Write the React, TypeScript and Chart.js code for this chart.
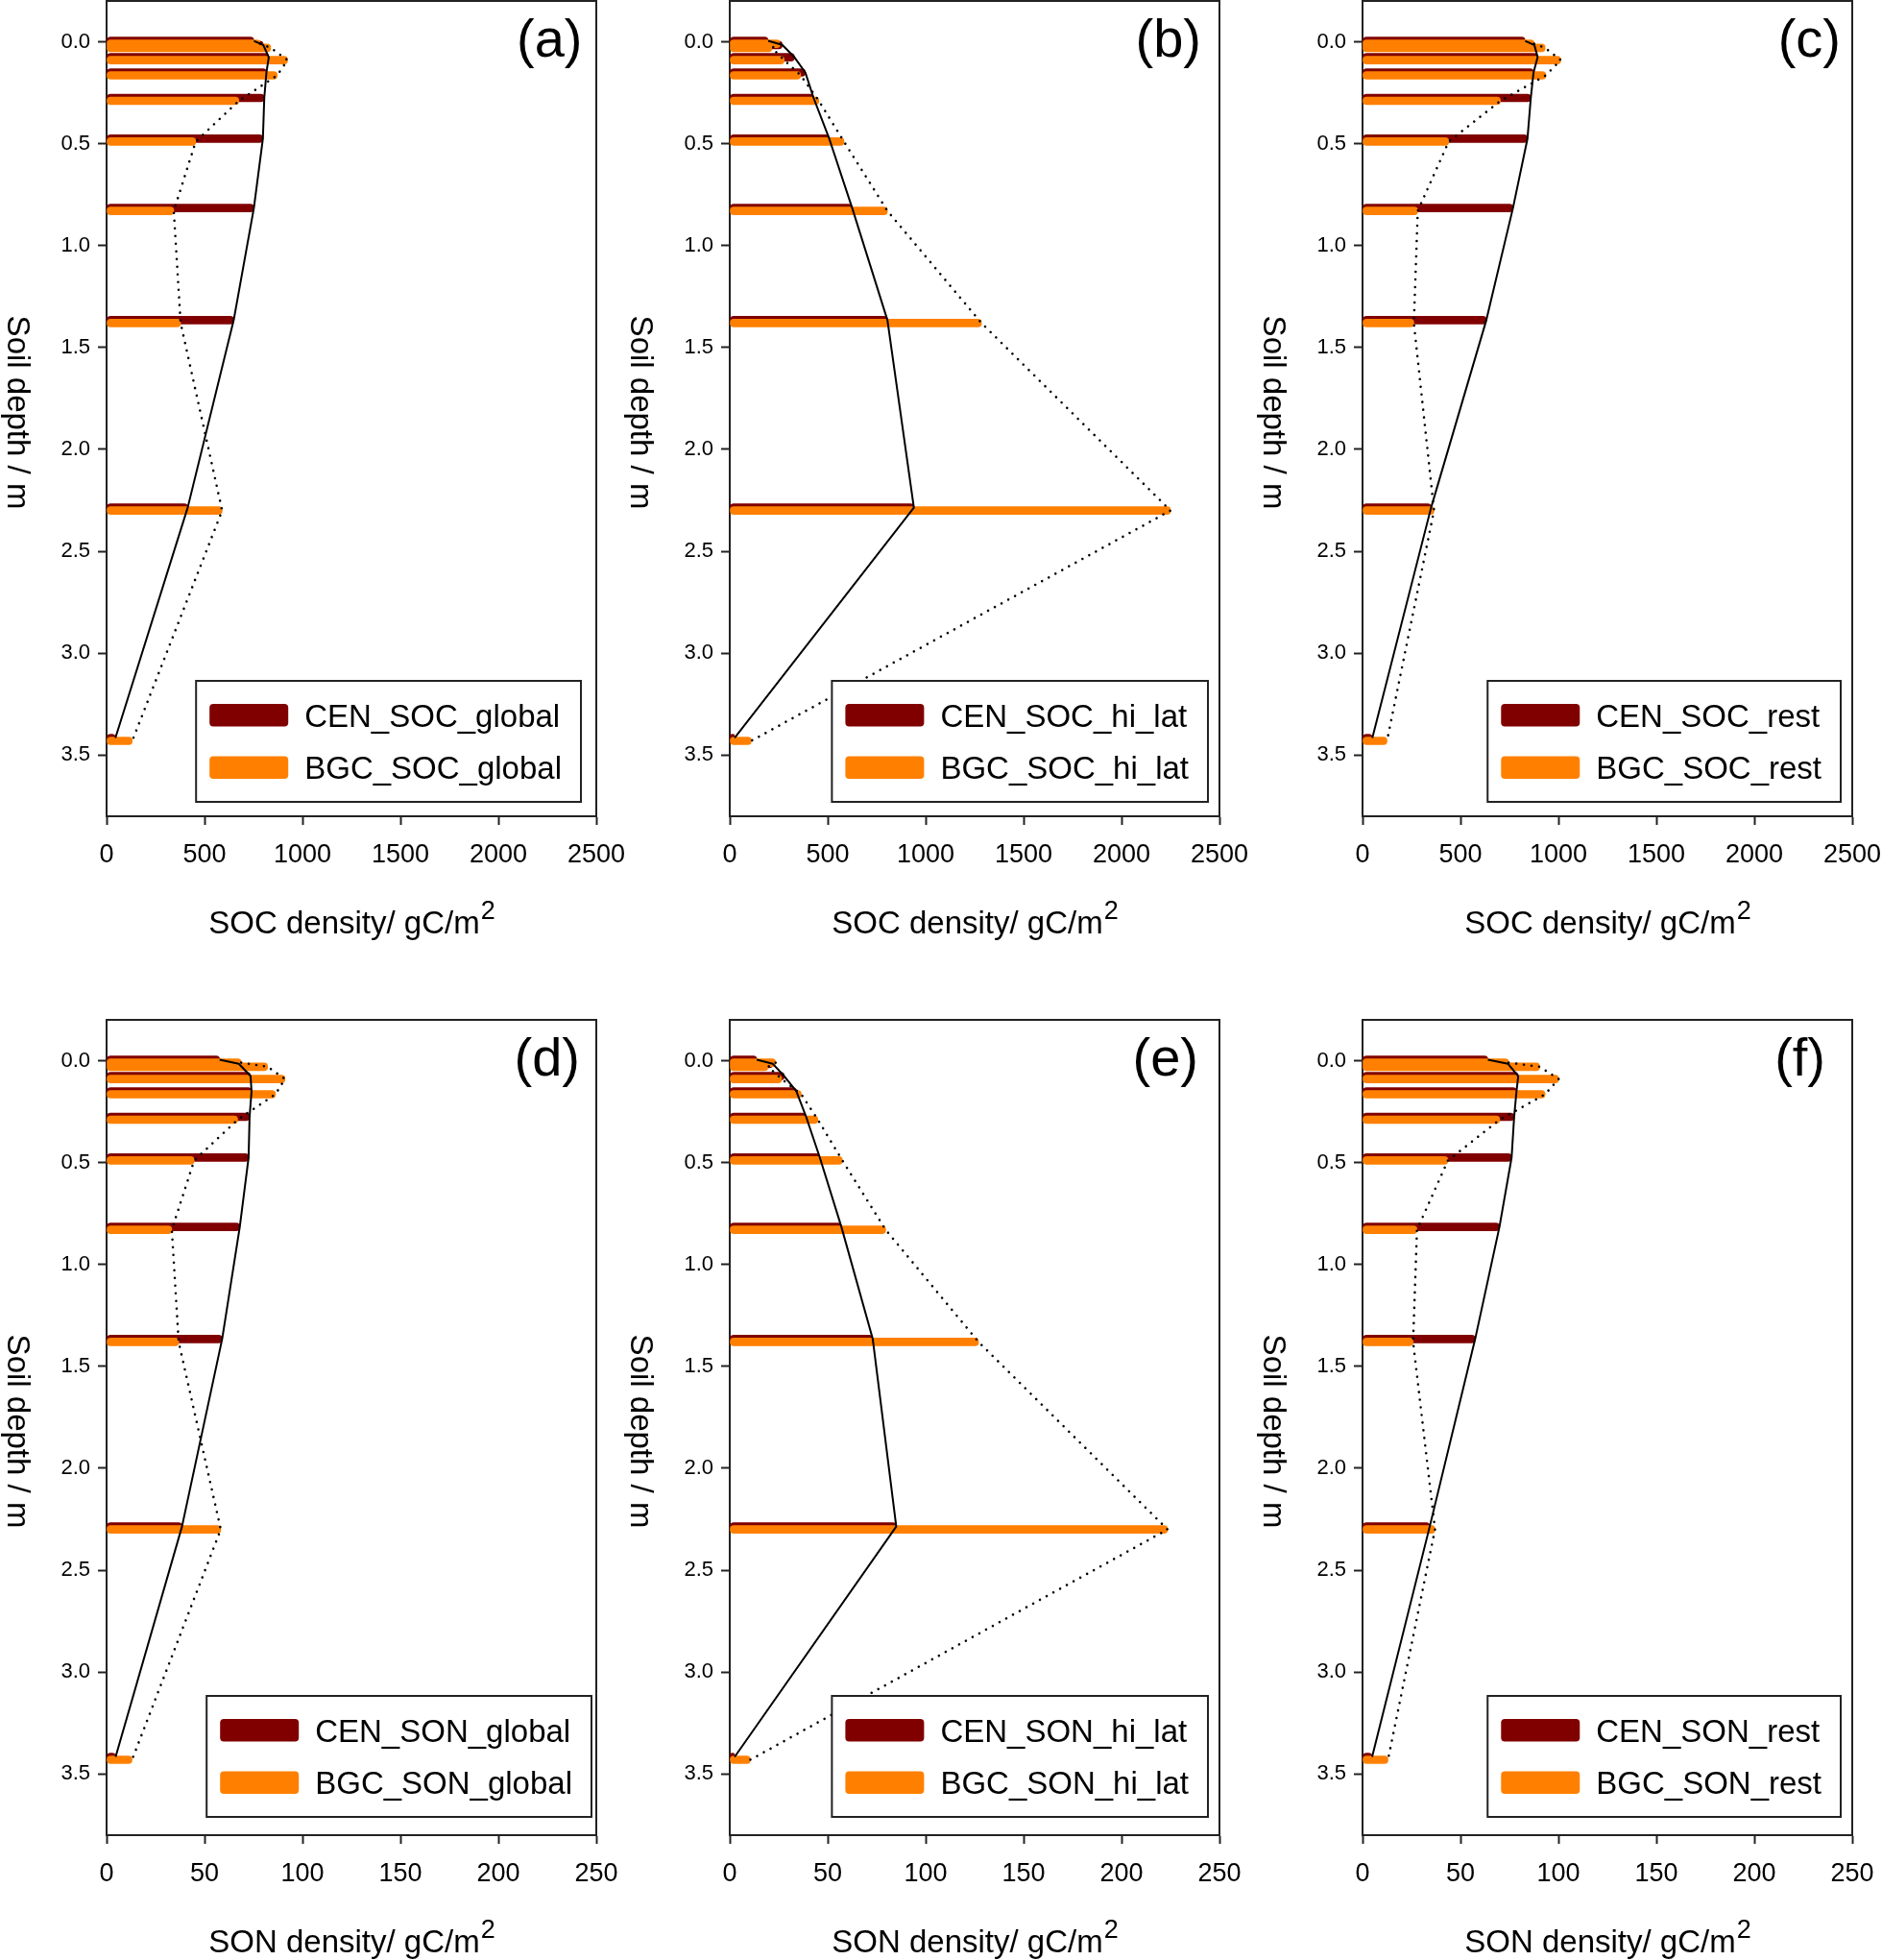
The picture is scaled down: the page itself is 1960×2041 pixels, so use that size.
import React, { useEffect, useRef } from "react";
import { Chart, registerables } from "chart.js";

Chart.register(...registerables);

// ---------------- data ----------------
const depths = [0.01, 0.03, 0.09, 0.165, 0.29, 0.49, 0.83, 1.38, 2.3, 3.43];
const depthTicks = [0, 0.5, 1, 1.5, 2, 2.5, 3, 3.5];
const socTicks = [0, 500, 1000, 1500, 2000, 2500];
const sonTicks = [0, 50, 100, 150, 200, 250];

const socGlobalCEN = [752, 800, 828, 816, 805, 798, 752, 649, 414, 45];
const socGlobalBGC = [784, 838, 924, 871, 675, 455, 343, 378, 590, 131];
const socHiLatCEN = [196, 268, 330, 386, 428, 508, 625, 805, 940, 25];
const socHiLatBGC = [257, 215, 278, 362, 455, 583, 805, 1285, 2250, 110];
const socRestCEN = [830, 877, 894, 873, 859, 842, 768, 632, 350, 50];
const socRestBGC = [876, 932, 1012, 936, 704, 440, 282, 262, 365, 125];

const sonGlobalCEN = [57.7, 67.5, 73.5, 74, 73, 72.5, 68, 59, 38.5, 4.6];
const sonGlobalBGC = [68.7, 82.2, 91.1, 86.2, 66.9, 44.7, 33.3, 36.8, 58.3, 13];
const sonHiLatCEN = [13.8, 22, 27.8, 34, 39, 46, 57, 73, 85, 2.5];
const sonHiLatBGC = [23.4, 19.5, 26.5, 36.5, 45, 57.5, 79.6, 127, 223.5, 10.5];
const sonRestCEN = [64, 74.3, 79.5, 78.6, 77.4, 76.1, 69.9, 57.5, 34.3, 4.9];
const sonRestBGC = [74.6, 90.4, 100.1, 93.2, 70, 43.6, 27.8, 25.8, 37, 13];

const panelLabels = ["(a)", "(b)", "(c)", "(d)", "(e)", "(f)"];
const cenNames = ["CEN_SOC_global", "CEN_SOC_hi_lat", "CEN_SOC_rest", "CEN_SON_global", "CEN_SON_hi_lat", "CEN_SON_rest"];
const bgcNames = ["BGC_SOC_global", "BGC_SOC_hi_lat", "BGC_SOC_rest", "BGC_SON_global", "BGC_SON_hi_lat", "BGC_SON_rest"];
const xTitles = ["SOC density/ gC/m", "SON density/ gC/m"];
const yTitle = "Soil depth / m";

// ---------------- layout / style ----------------
const FONT = '"Liberation Sans", Arial, Helvetica, sans-serif';
const DARK = "#800000";
const ORANGE = "#FF8000";
const FRAME = "#222222";

const COL_PLOT_LEFT = [111, 760, 1419];
const ROW_PLOT_TOP = [1, 1062];
const PLOT_W = 510;
const PLOT_H = 849;
const Y_AXIS_W = 111;
const PAD_TOP = 21;
const CANVAS_W = 650;
const CANVAS_H = 1000;
const X_AXIS_H = CANVAS_H - PAD_TOP - PLOT_H;
const PX_PER_M = PLOT_H / 4;
const DEPTH_MIN = -0.2;
const DEPTH_MAX = 3.8;

// Bar geometry. Chart.js groups the bars of this chart into SLOT_COUNT slots
// (one per dataset, in dataset order), each BAR_T thick, centred on the index pixel.
// Hidden depth scales are shifted so the CEN bar ends up CEN_ABOVE px above the
// BGC bar, which itself is centred on the depth.
const BAR_T = 8;
const SLOT_COUNT = 4;
const CEN_ABOVE = 3;
const slotOffset = (slot: number) => BAR_T * (slot + 0.5) - (BAR_T * SLOT_COUNT) / 2;
const LIFT_CEN_BAR = CEN_ABOVE + slotOffset(0); // px the scale is raised
const LIFT_BGC_BAR = slotOffset(1);
const LIFT_CEN_LINE = CEN_ABOVE;

const LEGEND_RIGHT_GAP = [16, 12, 12, 5, 12, 12];
const LEGEND_BOTTOM_GAP = [15, 19];
const LABEL_RIGHT_GAP = [14.5, 19, 12, 17, 22, 28];

type PanelDef = {
  idx: number;
  row: number;
  col: number;
  cen: number[];
  bgc: number[];
  xTicks: number[];
  xMax: number;
};

const panels: PanelDef[] = [
  { idx: 0, row: 0, col: 0, cen: socGlobalCEN, bgc: socGlobalBGC, xTicks: socTicks, xMax: 2500 },
  { idx: 1, row: 0, col: 1, cen: socHiLatCEN, bgc: socHiLatBGC, xTicks: socTicks, xMax: 2500 },
  { idx: 2, row: 0, col: 2, cen: socRestCEN, bgc: socRestBGC, xTicks: socTicks, xMax: 2500 },
  { idx: 3, row: 1, col: 0, cen: sonGlobalCEN, bgc: sonGlobalBGC, xTicks: sonTicks, xMax: 250 },
  { idx: 4, row: 1, col: 1, cen: sonHiLatCEN, bgc: sonHiLatBGC, xTicks: sonTicks, xMax: 250 },
  { idx: 5, row: 1, col: 2, cen: sonRestCEN, bgc: sonRestBGC, xTicks: sonTicks, xMax: 250 },
];

function pts(values: number[]) {
  return depths.map((d, i) => ({ x: values[i], y: d }));
}

// hidden depth scale raised by `liftPx` pixels (negative = lowered)
function hiddenDepthScale(liftPx: number) {
  const dm = liftPx / PX_PER_M;
  return {
    type: "linear",
    display: false,
    position: "left",
    reverse: true,
    min: DEPTH_MIN + dm,
    max: DEPTH_MAX + dm,
    offset: false,
    grid: { offset: false },
  };
}

function makeDecor(p: PanelDef) {
  return {
    id: "decor" + p.idx,
    beforeDatasetsDraw(chart: any) {
      const { ctx, chartArea: a } = chart;
      ctx.save();
      ctx.strokeStyle = FRAME;
      ctx.lineWidth = 2;
      ctx.strokeRect(a.left, a.top, a.right - a.left, a.bottom - a.top);
      ctx.restore();
    },
    afterDraw(chart: any) {
      const { ctx, chartArea: a } = chart;
      ctx.save();
      // panel label
      ctx.fillStyle = "#000";
      ctx.font = `56px ${FONT}`;
      ctx.textAlign = "right";
      ctx.textBaseline = "alphabetic";
      ctx.fillText(panelLabels[p.idx], a.right - LABEL_RIGHT_GAP[p.idx], a.top + 58);

      // legend
      ctx.font = `33px ${FONT}`;
      const cenName = cenNames[p.idx];
      const bgcName = bgcNames[p.idx];
      const tw = Math.max(ctx.measureText(cenName).width, ctx.measureText(bgcName).width);
      const bw = 14 + 82 + 17 + tw + 20;
      const bh = 126;
      const bx = a.right - LEGEND_RIGHT_GAP[p.idx] - bw;
      const by = a.bottom - LEGEND_BOTTOM_GAP[p.row] - bh;
      ctx.fillStyle = "#fff";
      ctx.fillRect(bx, by, bw, bh);
      ctx.strokeStyle = FRAME;
      ctx.lineWidth = 2;
      ctx.strokeRect(bx, by, bw, bh);
      const rows = [
        { c: DARK, t: cenName, top: by + 24 },
        { c: ORANGE, t: bgcName, top: by + 78.5 },
      ];
      for (const r of rows) {
        ctx.fillStyle = r.c;
        ctx.beginPath();
        if ((ctx as any).roundRect) {
          (ctx as any).roundRect(bx + 14, r.top, 82, 23.5, 4);
        } else {
          ctx.rect(bx + 14, r.top, 82, 23.5);
        }
        ctx.fill();
        ctx.fillStyle = "#000";
        ctx.textAlign = "left";
        ctx.textBaseline = "alphabetic";
        ctx.fillText(r.t, bx + 14 + 82 + 17, r.top + 23.5);
      }

      // x title with superscript
      const main = xTitles[p.row];
      ctx.font = `33px ${FONT}`;
      const wMain = ctx.measureText(main).width;
      ctx.font = `27px ${FONT}`;
      const wSup = ctx.measureText("2").width;
      const sx = (a.left + a.right) / 2 - (wMain + wSup) / 2;
      ctx.fillStyle = "#000";
      ctx.textAlign = "left";
      ctx.textBaseline = "alphabetic";
      ctx.font = `33px ${FONT}`;
      ctx.fillText(main, sx, a.bottom + 122);
      ctx.font = `27px ${FONT}`;
      ctx.fillText("2", sx + wMain + 1, a.bottom + 107);

      // y title (reads top to bottom)
      ctx.font = `33px ${FONT}`;
      ctx.translate(a.left - 94, (a.top + a.bottom) / 2 + 4);
      ctx.rotate(Math.PI / 2);
      ctx.textAlign = "center";
      ctx.textBaseline = "middle";
      ctx.fillText(yTitle, 0, 0);
      ctx.restore();
    },
  };
}

function buildConfig(p: PanelDef): any {
  const tickGrid = {
    drawOnChartArea: false,
    drawTicks: true,
    tickLength: 9,
    tickWidth: 2,
    tickColor: FRAME,
    offset: false,
  };
  const radius = { topLeft: 4, topRight: 4, bottomLeft: 4, bottomRight: 4 };
  return {
    type: "bar",
    data: {
      datasets: [
        {
          type: "bar",
          label: cenNames[p.idx],
          data: pts(p.cen),
          xAxisID: "x",
          yAxisID: "yCenBar",
          indexAxis: "y",
          backgroundColor: DARK,
          barThickness: BAR_T,
          borderRadius: radius,
          borderSkipped: false,
          order: 3,
        },
        {
          type: "bar",
          label: bgcNames[p.idx],
          data: pts(p.bgc),
          xAxisID: "x",
          yAxisID: "yBgcBar",
          indexAxis: "y",
          backgroundColor: ORANGE,
          barThickness: BAR_T,
          borderRadius: radius,
          borderSkipped: false,
          order: 2,
        },
        {
          type: "line",
          label: "CEN profile",
          data: pts(p.cen),
          xAxisID: "x",
          yAxisID: "yCenLine",
          indexAxis: "y",
          borderColor: "#000",
          borderWidth: 2,
          pointRadius: 0,
          tension: 0,
          fill: false,
          borderJoinStyle: "round",
          order: 0,
        },
        {
          type: "line",
          label: "BGC profile",
          data: pts(p.bgc),
          xAxisID: "x",
          yAxisID: "y",
          indexAxis: "y",
          borderColor: "#000",
          borderWidth: 2.6,
          borderDash: [0.01, 8],
          borderCapStyle: "round",
          pointRadius: 0,
          tension: 0,
          fill: false,
          order: 1,
        },
      ],
    },
    options: {
      indexAxis: "y",
      responsive: false,
      maintainAspectRatio: false,
      animation: false,
      events: [],
      layout: { padding: { left: 0, top: PAD_TOP, right: CANVAS_W - Y_AXIS_W - PLOT_W, bottom: 0 } },
      plugins: {
        legend: { display: false },
        tooltip: { enabled: false },
        title: { display: false },
      },
      scales: {
        x: {
          type: "linear",
          position: "bottom",
          min: 0,
          max: p.xMax,
          afterBuildTicks: (s: any) => {
            s.ticks = p.xTicks.map((v) => ({ value: v }));
          },
          afterFit: (s: any) => {
            s.height = X_AXIS_H;
            s.paddingLeft = 0;
            s.paddingRight = 0;
          },
          ticks: {
            autoSkip: false,
            maxRotation: 0,
            minRotation: 0,
            padding: 15,
            color: "#000",
            font: { family: FONT, size: 27 },
            callback: (v: any) => String(v),
          },
          grid: tickGrid,
          border: { display: true, color: FRAME, width: 2 },
        },
        y: {
          type: "linear",
          position: "left",
          reverse: true,
          min: DEPTH_MIN,
          max: DEPTH_MAX,
          offset: false,
          afterBuildTicks: (s: any) => {
            s.ticks = depthTicks.map((v) => ({ value: v }));
          },
          afterFit: (s: any) => {
            s.width = Y_AXIS_W;
            s.paddingTop = 0;
            s.paddingBottom = 0;
          },
          ticks: {
            autoSkip: false,
            padding: 8,
            color: "#000",
            font: { family: FONT, size: 22 },
            callback: (v: any) => Number(v).toFixed(1),
          },
          grid: tickGrid,
          border: { display: true, color: FRAME, width: 2 },
        },
        yCenBar: hiddenDepthScale(LIFT_CEN_BAR),
        yBgcBar: hiddenDepthScale(LIFT_BGC_BAR),
        yCenLine: hiddenDepthScale(LIFT_CEN_LINE),
      },
    },
    plugins: [makeDecor(p)],
  };
}

function Panel({ def }: { def: PanelDef }) {
  const ref = useRef<HTMLCanvasElement | null>(null);
  useEffect(() => {
    const canvas = ref.current;
    if (!canvas) return;
    const chart = new Chart(canvas, buildConfig(def));
    return () => chart.destroy();
  }, [def]);
  const left = COL_PLOT_LEFT[def.col] - Y_AXIS_W;
  const top = ROW_PLOT_TOP[def.row] - PAD_TOP;
  return (
    <canvas
      ref={ref}
      width={CANVAS_W}
      height={CANVAS_H}
      style={{ position: "absolute", left, top, width: CANVAS_W, height: CANVAS_H }}
    />
  );
}

export default function App() {
  return (
    <div
      style={{
        position: "absolute",
        left: 0,
        top: 0,
        width: 1960,
        height: 2041,
        overflow: "hidden",
        background: "#fff",
      }}
    >
      {panels.map((p) => (
        <Panel key={p.idx} def={p} />
      ))}
    </div>
  );
}
